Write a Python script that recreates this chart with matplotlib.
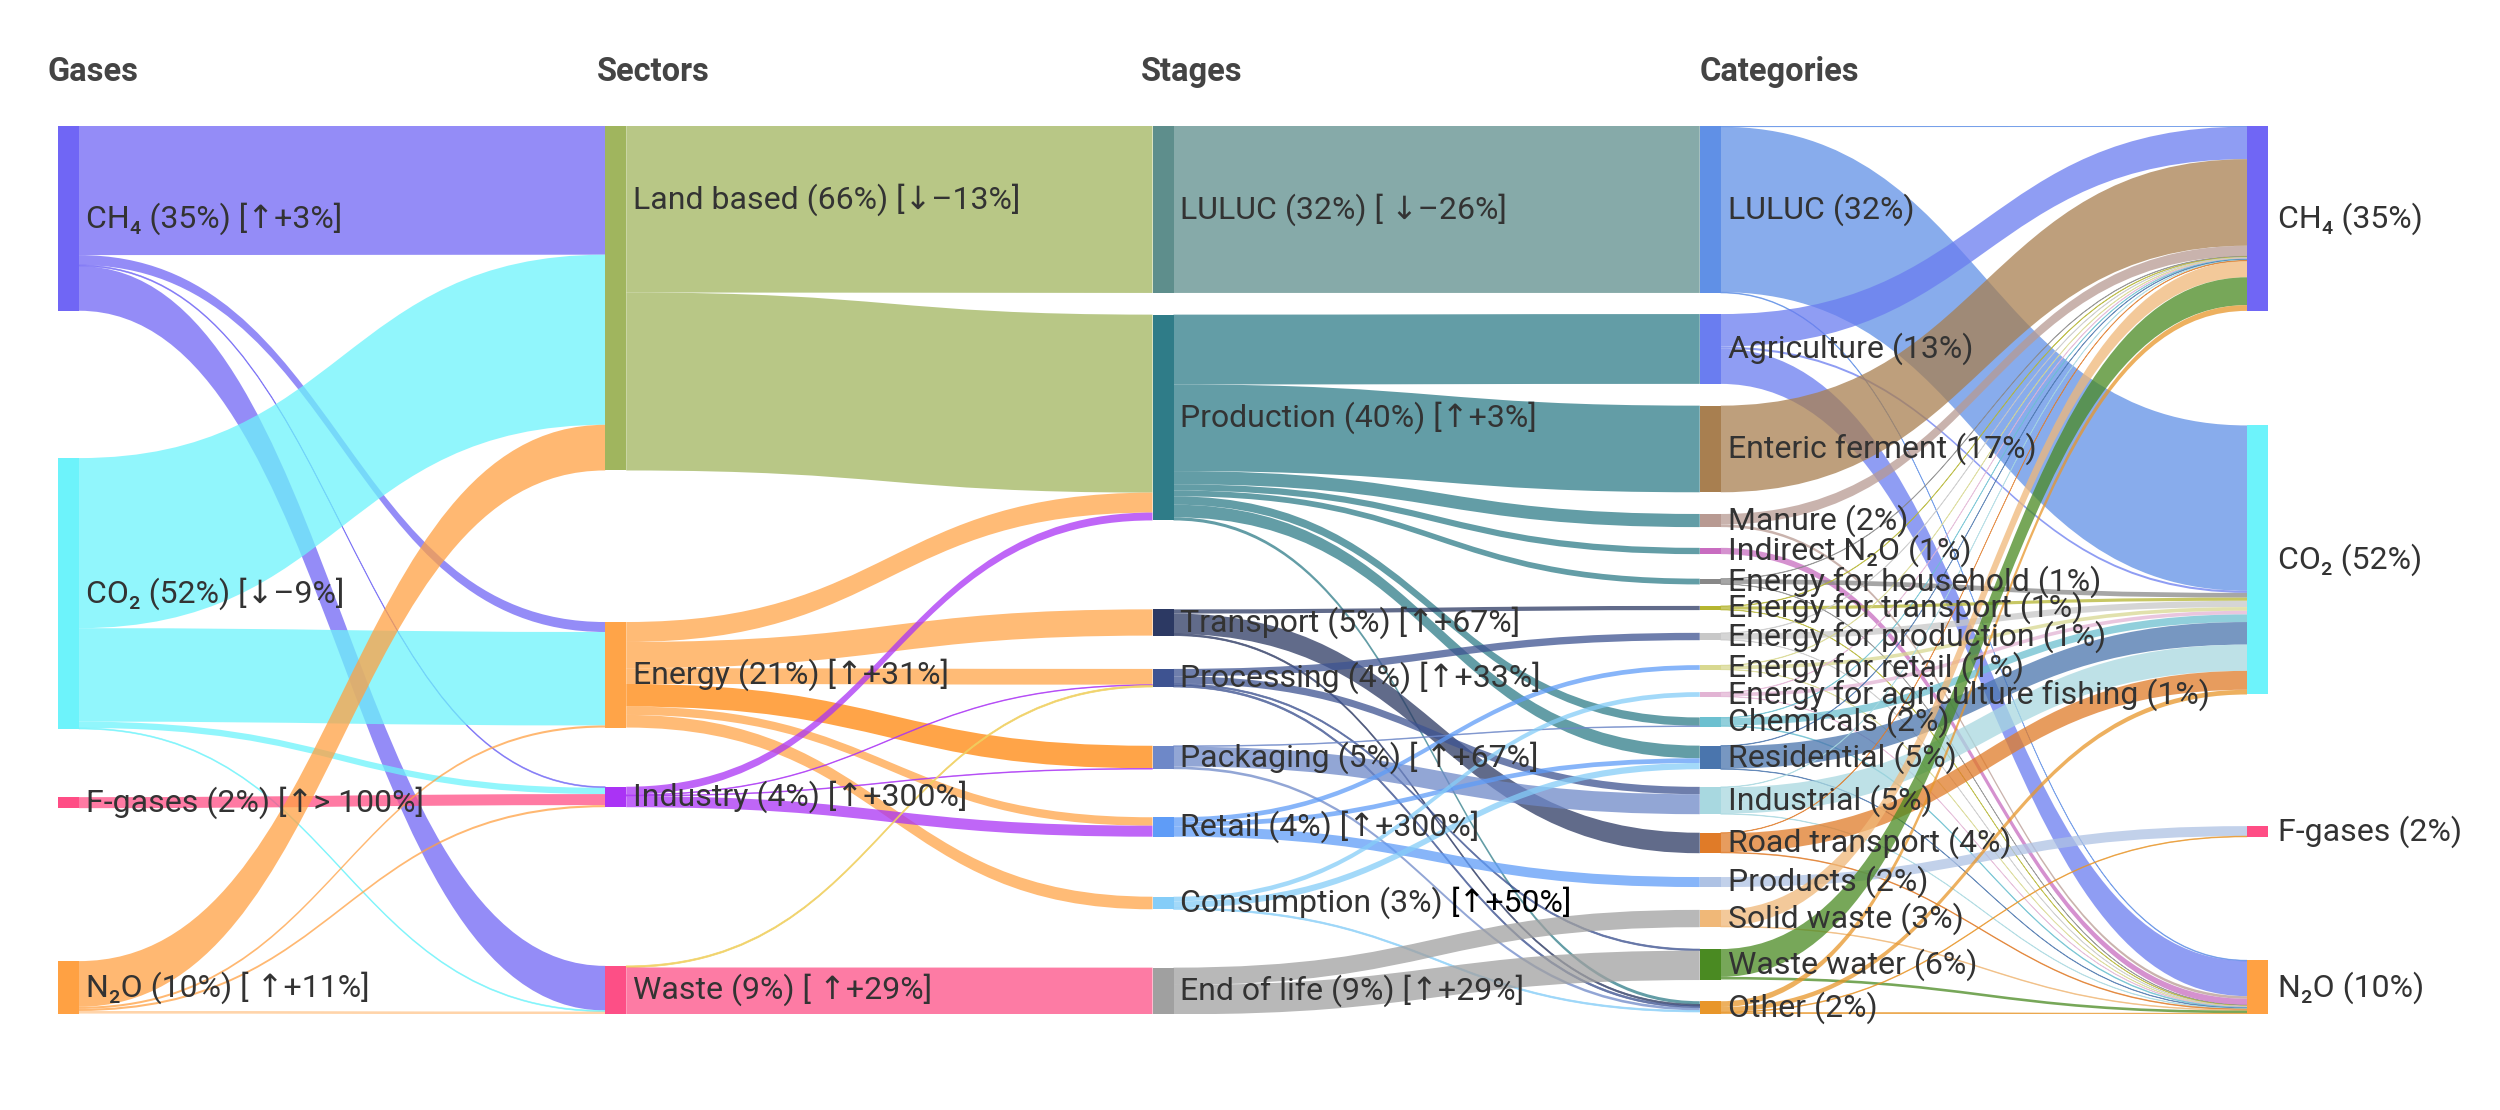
import matplotlib.pyplot as plt
from matplotlib.path import Path
from matplotlib.patches import PathPatch, Rectangle
from matplotlib.transforms import blended_transform_factory
from matplotlib.colors import to_rgba

plt.rcParams['font.family'] = ['Roboto', 'DejaVu Sans']

# ---------------- datos ----------------
column_titles = ["Gases", "Sectors", "Stages", "Categories"]

gases_in = ["CH4", "CO2", "FG", "N2O"]
gases_in_labels = ["CH₄ (35%) [↑+3%]", "CO₂ (52%) [↓–9%]",
                   "F-gases (2%) [↑> 100%]", "N₂O (10%) [ ↑+11%]"]

sectors = ["Land", "Energy", "Industry", "Waste"]
sectors_labels = ["Land based (66%) [↓–13%]", "Energy (21%) [↑+31%]",
                  "Industry (4%) [↑+300%]", "Waste (9%) [ ↑+29%]"]

stages = ["S_LULUC", "Production", "Transport", "Processing",
          "Packaging", "Retail", "Consumption", "EOL"]
stages_labels = ["LULUC (32%) [ ↓–26%]", "Production (40%) [↑+3%]",
                 "Transport (5%) [↑+67%]", "Processing (4%) [↑+33%]",
                 "Packaging (5%) [ ↑+67%]", "Retail (4%) [↑+300%]",
                 "Consumption (3%) ", "End of life (9%) [↑+29%]"]
consumption_suffix = "[↑+50%]"

categories = ["C_LULUC", "Agriculture", "Enteric", "Manure", "IndN2O",
              "E_house", "E_trans", "E_prod", "E_retail", "E_agfish",
              "Chemicals", "Residential", "Industrial", "Road", "Products",
              "Solid", "Wastewater", "Other"]
categories_labels = ["LULUC (32%)", "Agriculture (13%)", "Enteric ferment (17%)",
                     "Manure (2%)", "Indirect N₂O (1%)", "Energy for household (1%)",
                     "Energy for transport (1%)", "Energy for production (1%)",
                     "Energy for retail (1%)", "Energy for agriculture fishing (1%)",
                     "Chemicals (2%)", "Residential (5%)", "Industrial (5%)",
                     "Road transport (4%)", "Products (2%)", "Solid waste (3%)",
                     "Waste water (6%)", "Other (2%)"]

gases_out = ["CH4o", "CO2o", "FGo", "N2Oo"]
gases_out_labels = ["CH₄ (35%)", "CO₂ (52%)", "F-gases (2%)", "N₂O (10%)"]

# flujos (% del total)
links_gas_sector = [
    ("CH4", "Land", 24.6), ("CH4", "Energy", 1.9), ("CH4", "Industry", 0.2), ("CH4", "Waste", 8.5),
    ("CO2", "Land", 32.4), ("CO2", "Energy", 17.8), ("CO2", "Industry", 1.2), ("CO2", "Waste", 0.2),
    ("FG", "Industry", 2.1),
    ("N2O", "Land", 8.7), ("N2O", "Energy", 0.4), ("N2O", "Industry", 0.4), ("N2O", "Waste", 0.5),
]
links_sector_stage = [
    ("Land", "S_LULUC", 31.8), ("Land", "Production", 33.9),
    ("Energy", "Production", 3.8), ("Energy", "Transport", 5.0), ("Energy", "Processing", 3.0),
    ("Energy", "Packaging", 4.3), ("Energy", "Retail", 1.6), ("Energy", "Consumption", 2.4),
    ("Industry", "Production", 1.5), ("Industry", "Processing", 0.15),
    ("Industry", "Packaging", 0.15), ("Industry", "Retail", 2.1),
    ("Waste", "Processing", 0.3), ("Waste", "EOL", 8.9),
]
links_stage_category = [
    ("S_LULUC", "C_LULUC", 31.8),
    ("Production", "Agriculture", 13.3), ("Production", "Enteric", 16.5),
    ("Production", "Manure", 2.5), ("Production", "IndN2O", 1.2),
    ("Production", "E_house", 1.1), ("Production", "Chemicals", 1.6),
    ("Production", "Residential", 2.4), ("Production", "Other", 0.6),
    ("Transport", "E_trans", 0.8), ("Transport", "Road", 3.9), ("Transport", "Other", 0.3),
    ("Processing", "E_prod", 1.4), ("Processing", "Industrial", 1.4),
    ("Processing", "Wastewater", 0.3), ("Processing", "Other", 0.35),
    ("Packaging", "Chemicals", 0.15), ("Packaging", "Industrial", 3.8), ("Packaging", "Other", 0.5),
    ("Retail", "E_retail", 0.9), ("Retail", "Residential", 0.9), ("Retail", "Products", 1.9),
    ("Consumption", "E_agfish", 0.9), ("Consumption", "Residential", 1.2), ("Consumption", "Other", 0.3),
    ("EOL", "Solid", 3.3), ("EOL", "Wastewater", 5.6),
]
links_category_gas = [
    ("C_LULUC", "CH4o", 0.15), ("C_LULUC", "CO2o", 31.5), ("C_LULUC", "N2Oo", 0.15),
    ("Agriculture", "CH4o", 6.2), ("Agriculture", "CO2o", 0.4), ("Agriculture", "N2Oo", 6.7),
    ("Enteric", "CH4o", 16.5),
    ("Manure", "CH4o", 2.0), ("Manure", "N2Oo", 0.5),
    ("IndN2O", "N2Oo", 1.2),
    ("E_house", "CH4o", 0.1), ("E_house", "CO2o", 0.9), ("E_house", "N2Oo", 0.08),
    ("E_trans", "CH4o", 0.1), ("E_trans", "CO2o", 0.6), ("E_trans", "N2Oo", 0.08),
    ("E_prod", "CH4o", 0.1), ("E_prod", "CO2o", 1.2), ("E_prod", "N2Oo", 0.08),
    ("E_retail", "CH4o", 0.1), ("E_retail", "CO2o", 0.7), ("E_retail", "N2Oo", 0.08),
    ("E_agfish", "CH4o", 0.1), ("E_agfish", "CO2o", 0.7), ("E_agfish", "N2Oo", 0.08),
    ("Chemicals", "CH4o", 0.1), ("Chemicals", "CO2o", 1.45), ("Chemicals", "N2Oo", 0.15),
    ("Residential", "CH4o", 0.1), ("Residential", "CO2o", 4.3), ("Residential", "N2Oo", 0.1),
    ("Industrial", "CH4o", 0.1), ("Industrial", "CO2o", 5.0), ("Industrial", "N2Oo", 0.1),
    ("Road", "CH4o", 0.1), ("Road", "CO2o", 3.6), ("Road", "N2Oo", 0.15),
    ("Products", "FGo", 1.9),
    ("Solid", "CH4o", 3.1), ("Solid", "N2Oo", 0.15),
    ("Wastewater", "CH4o", 5.3), ("Wastewater", "N2Oo", 0.5),
    ("Other", "CH4o", 1.1), ("Other", "CO2o", 0.9), ("Other", "FGo", 0.15), ("Other", "N2Oo", 0.25),
]

# ---------------- layout y colores ----------------
# posicion vertical del centro de cada nodo (0 = arriba, 1 = abajo), como node.y de plotly
node_y = {
    "CH4": 0.104, "CO2": 0.5265, "FG": 0.762, "N2O": 0.970,
    "Land": 0.1937, "Energy": 0.618, "Industry": 0.7556, "Waste": 0.973,
    "S_LULUC": 0.094, "Production": 0.3283, "Transport": 0.5591, "Processing": 0.6216,
    "Packaging": 0.7111, "Retail": 0.7894, "Consumption": 0.875, "EOL": 0.9741,
    "C_LULUC": 0.094, "Agriculture": 0.2511, "Enteric": 0.3637, "Manure": 0.4443,
    "IndN2O": 0.4786, "E_house": 0.5130, "E_trans": 0.5428, "E_prod": 0.5749,
    "E_retail": 0.6098, "E_agfish": 0.6402, "Chemicals": 0.6712, "Residential": 0.7111,
    "Industrial": 0.7596, "Road": 0.8074, "Products": 0.8514, "Solid": 0.8925,
    "Wastewater": 0.9443, "Other": 0.9927,
    "CH4o": 0.104, "CO2o": 0.4887, "FGo": 0.7945, "N2Oo": 0.970,
}

node_color = {
    "CH4": "#7066f5", "CO2": "#6df3fb", "FG": "#ff4d85", "N2O": "#ffa143",
    "Land": "#a0b55e", "Energy": "#ffa448", "Industry": "#aa33f5", "Waste": "#fd4f86",
    "S_LULUC": "#5e8e8c", "Production": "#2f7c88", "Transport": "#2c3963",
    "Processing": "#3e5391", "Packaging": "#6e88c8", "Retail": "#5f9cf7",
    "Consumption": "#85cdf8", "EOL": "#a0a0a0",
    "C_LULUC": "#6090e6", "Agriculture": "#6a7df0", "Enteric": "#a87f50", "Manure": "#b89a92",
    "IndN2O": "#c86cc0", "E_house": "#888888", "E_trans": "#b5b530", "E_prod": "#c8c8c8",
    "E_retail": "#d8d890", "E_agfish": "#e2b4d4", "Chemicals": "#6cc0d0",
    "Residential": "#4a75ad", "Industrial": "#a8d8e0", "Road": "#e07b28",
    "Products": "#aec2e4", "Solid": "#f0b878", "Wastewater": "#4a8a22", "Other": "#e8962a",
    "CH4o": "#7066f5", "CO2o": "#6df3fb", "FGo": "#ff4d85", "N2Oo": "#ffa143",
}
link_alpha = 0.75
link_color_override = {
    ("Waste", "Processing"): ("#f0d060", 0.9),
    ("Energy", "Packaging"): ("#ffa448", 1.0),
    ("N2O", "Waste"): ("#ffa143", 0.45),
}

columns = [gases_in, sectors, stages, categories, gases_out]
labels = [gases_in_labels, sectors_labels, stages_labels, categories_labels, gases_out_labels]
links = links_gas_sector + links_sector_stage + links_stage_category + links_category_gas

# ---------------- calculos ----------------
px_per_unit = 5.25
col_px = 547.25
node_w = 21 / col_px
H = 888 / px_per_unit

col_of = {}
for c, names in enumerate(columns):
    for n in names:
        col_of[n] = c

v_in = {n: 0.0 for n in col_of}
v_out = {n: 0.0 for n in col_of}
for s, t, v in links:
    v_out[s] += v
    v_in[t] += v
value = {n: max(v_in[n], v_out[n]) for n in col_of}
top = {n: node_y[n] * H - value[n] / 2 for n in col_of}
center = {n: node_y[n] for n in col_of}

# posicion de cada enlace en origen y destino
src_pos, tgt_pos = {}, {}
for n in col_of:
    outs = sorted([l for l in links if l[0] == n], key=lambda l: center[l[1]])
    y = top[n]
    for l in outs:
        src_pos[(l[0], l[1])] = y
        y += l[2]
    ins = sorted([l for l in links if l[1] == n], key=lambda l: center[l[0]])
    y = top[n]
    for l in ins:
        tgt_pos[(l[0], l[1])] = y
        y += l[2]

fig = plt.figure(figsize=(25, 11.1), dpi=100)
ax = fig.add_axes([58 / 2500, 1 - 1014 / 1110, 2210 / 2500, 888 / 1110])
ax.set_xlim(0, 4 + node_w)
ax.set_ylim(H, 0)
ax.axis('off')

for s, t, v in links:
    x0 = col_of[s] + node_w
    x1 = col_of[t]
    y0 = src_pos[(s, t)]
    y1 = tgt_pos[(s, t)]
    xm = (x0 + x1) / 2
    verts = [(x0, y0), (xm, y0), (xm, y1), (x1, y1),
             (x1, y1 + v), (xm, y1 + v), (xm, y0 + v), (x0, y0 + v), (x0, y0)]
    codes = [Path.MOVETO, Path.CURVE4, Path.CURVE4, Path.CURVE4,
             Path.LINETO, Path.CURVE4, Path.CURVE4, Path.CURVE4, Path.CLOSEPOLY]
    col, a = link_color_override.get((s, t), (node_color[s], link_alpha))
    rgba = to_rgba(col, a)
    thin = v * px_per_unit < 2
    ax.add_patch(PathPatch(Path(verts, codes), facecolor=rgba,
                           edgecolor=rgba if thin else 'none', lw=0.5 if thin else 0))

label_size = 23
for c, names in enumerate(columns):
    for n, lab in zip(names, labels[c]):
        ax.add_patch(Rectangle((c, top[n]), node_w, value[n], facecolor=node_color[n], lw=0))
        dx = (10 if c == 4 else 7) / col_px
        yl = top[n] + value[n] / 2
        if n == "Land":
            yl -= 98 / px_per_unit
        txt = ax.text(c + node_w + dx, yl, lab, ha='left', va='center', fontsize=label_size,
                      color='#333333', clip_on=False)
        if n == "Consumption":
            ax.annotate(consumption_suffix, xy=(1, 0.5), xycoords=txt, ha='left', va='center',
                        fontsize=label_size, color='#000000', annotation_clip=False)

trans = blended_transform_factory(ax.transData, ax.transAxes)
title_dx = [-10, -8, -12, 0]
for c, title in enumerate(column_titles):
    ax.text(c + title_dx[c] / col_px, 1 + 54 / 888, title, transform=trans,
            ha='left', va='center', fontsize=23.5, fontweight='bold', color='#444444')

fig.savefig("out.png", dpi=100)
